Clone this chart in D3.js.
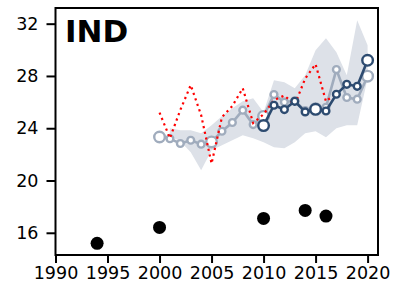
<!DOCTYPE html>
<html>
<head>
<meta charset="utf-8">
<script src="https://cdn.jsdelivr.net/npm/d3@7"></script>
<style>
  html, body { margin: 0; padding: 0; background: #fff; }
  svg { display: block; }
  text { font-family: "DejaVu Sans", sans-serif; }
</style>
</head>
<body>
<svg id="chart" width="394" height="291"></svg>
<script>
// ---- data ----
const xTicks = [1990, 1995, 2000, 2005, 2010, 2015, 2020];
const yTicks = [16, 20, 24, 28, 32];
const title = "IND";

const bandYears = [2001,2002,2003,2004,2005,2006,2007,2008,2009,2010,2011,2012,2013,2014,2015,2016,2017,2018,2019,2020];
const bandTop =   [24.0,23.85,23.85,23.62,24.23,24.92,25.53,26.06,26.29,25.22,27.67,27.52,27.06,28.05,29.96,30.88,29.81,28.05,32.26,30.35];
const bandBot =   [23.39,23.01,22.17,20.79,22.32,22.70,23.08,23.46,23.24,22.93,22.55,22.47,22.93,23.62,23.77,23.31,24.0,24.23,24.23,27.82];

const grayYears = [2000,2001,2002,2003,2004,2005,2006,2007,2008,2009,2010,2011,2012,2013,2014,2015,2016,2017,2018,2019,2020];
const grayVals  = [23.33,23.2,22.83,23.08,22.78,22.95,23.77,24.44,25.38,24.28,24.9,26.58,26.0,26.1,25.35,25.5,25.6,28.49,26.35,26.22,27.98];

const darkYears = [2010,2011,2012,2013,2014,2015,2016,2017,2018,2019,2020];
const darkVals  = [24.2,25.76,25.43,26.06,25.25,25.45,25.32,26.6,27.36,27.21,29.2];

const redYears = [2000,2001,2002,2003,2004,2005,2006,2007,2008,2009,2010,2011,2012,2013,2014,2015,2016,2017];
const redVals  = [25.2,23.24,25.4,27.3,25.0,21.3,24.85,25.7,27.06,24.4,25.07,26.15,26.5,25.8,27.8,28.9,26.05,26.7];

const obsYears = [1994, 2000, 2010, 2014, 2016];
const obsVals  = [15.19, 16.41, 17.1, 17.71, 17.28];

// ---- layout ----
const svg = d3.select("#chart");
const L = 55.5, R = 378, T = 8, B = 255;
const x = d3.scaleLinear().domain([1990, 2021]).range([L, R]);
const y = d3.scaleLinear().domain([14.3, 33.2]).range([B, T]);

const grayCol = "#a0acbd";
const darkCol = "#2d4b70";

// band
const band = bandYears.map((yr, i) => ({yr, t: bandTop[i], b: bandBot[i]}));
svg.append("path")
  .datum(band)
  .attr("fill", "#dde1e8")
  .attr("d", d3.area().x(d => x(d.yr)).y0(d => y(d.b)).y1(d => y(d.t)));

// gray line
const grayData = grayYears.map((yr, i) => ({yr, v: grayVals[i]}));
svg.append("path").datum(grayData)
  .attr("fill", "none").attr("stroke", grayCol).attr("stroke-width", 2.6)
  .attr("d", d3.line().x(d => x(d.yr)).y(d => y(d.v)));
svg.selectAll("circle.gray").data(grayData).enter().append("circle")
  .attr("class", "gray")
  .attr("cx", d => x(d.yr)).attr("cy", d => y(d.v))
  .attr("r", d => d.yr % 5 === 0 ? 5.3 : 3.4)
  .attr("fill", "#fff").attr("stroke", grayCol).attr("stroke-width", 2.4);

// red dotted line
const redData = redYears.map((yr, i) => ({yr, v: redVals[i]}));
svg.append("path").datum(redData)
  .attr("fill", "none").attr("stroke", "#ff0000").attr("stroke-width", 2.2)
  .attr("stroke-dasharray", "2.2,3.6")
  .attr("d", d3.line().x(d => x(d.yr)).y(d => y(d.v)));

// dark line
const darkData = darkYears.map((yr, i) => ({yr, v: darkVals[i]}));
svg.append("path").datum(darkData)
  .attr("fill", "none").attr("stroke", darkCol).attr("stroke-width", 2.6)
  .attr("d", d3.line().x(d => x(d.yr)).y(d => y(d.v)));
svg.selectAll("circle.dark").data(darkData).enter().append("circle")
  .attr("class", "dark")
  .attr("cx", d => x(d.yr)).attr("cy", d => y(d.v))
  .attr("r", d => d.yr % 5 === 0 ? 5.3 : 3.4)
  .attr("fill", "#fff").attr("stroke", darkCol).attr("stroke-width", 2.4);

// observations
svg.selectAll("circle.obs").data(obsYears.map((yr, i) => ({yr, v: obsVals[i]}))).enter().append("circle")
  .attr("class", "obs")
  .attr("cx", d => x(d.yr)).attr("cy", d => y(d.v))
  .attr("r", 6.5).attr("fill", "#000");

// frame
svg.append("rect").attr("x", L).attr("y", T).attr("width", R - L).attr("height", B - T)
  .attr("fill", "none").attr("stroke", "#000").attr("stroke-width", 2);

// axes
const xAxis = svg.append("g").attr("transform", `translate(0,${B})`)
  .call(d3.axisBottom(x).tickValues(xTicks).tickFormat(d3.format("d")).tickSize(8).tickPadding(4));
const yAxis = svg.append("g").attr("transform", `translate(${L},0)`)
  .call(d3.axisLeft(y).tickValues(yTicks).tickSize(9).tickPadding(8));
[xAxis, yAxis].forEach(g => {
  g.select(".domain").remove();
  g.selectAll("line").attr("stroke", "#000").attr("stroke-width", 2);
  g.selectAll("text").attr("fill", "#000").style("font-size", "17.5px")
    .style("font-family", "'DejaVu Sans', sans-serif");
});

// title
svg.append("text").attr("x", 65).attr("y", 42)
  .style("font-size", "31px").style("font-weight", "bold").attr("fill", "#000")
  .text(title);
</script>
</body>
</html>
